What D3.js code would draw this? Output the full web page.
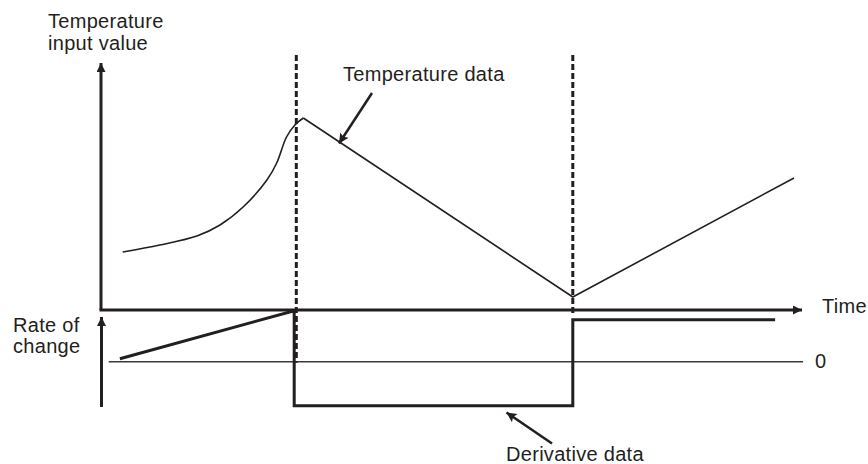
<!DOCTYPE html>
<html>
<head>
<meta charset="utf-8">
<script src="https://cdn.jsdelivr.net/npm/d3@7"></script>
<style>
  body { margin: 0; background: #fff; }
  text { font-family: "Liberation Sans", Arial, sans-serif; font-size: 20px; fill: #231f20; letter-spacing: 0.3px; }
</style>
</head>
<body>
<svg width="868" height="464"></svg>
<script>
// time in arbitrary units, temperature and rate of change in arbitrary units
const riseTimes = [0.31, 0.84, 1.37, 1.70, 2.03, 2.37, 2.51, 2.65, 2.77, 2.89];
const riseTemps = [58, 65, 74, 85, 103, 130, 147, 173, 185, 192];
const lineTimes = [2.89, 6.74, 9.90];
const lineTemps = [192, 13, 132];
const derivTimes = [0.27, 2.76, 2.76, 6.74, 6.74, 9.63];
const derivValues = [3, 51, -44, -44, 42, 42];
const eventTimes = [2.79, 6.74];
const eventEnds = [-1, 50];   // how far down each dashed marker goes (rate units / temp axis)

const ink = "#231f20";
const svg = d3.select("svg");

const x = d3.scaleLinear().domain([0, 10]).range([101, 801]);
const yTemp = d3.scaleLinear().domain([0, 250]).range([310, 60]);
const yRate = d3.scaleLinear().domain([-50, 50]).range([411.7, 311.7]);

// arrow heads
const defs = svg.append("defs");
defs.append("marker")
    .attr("id", "head")
    .attr("viewBox", "0 0 10 10")
    .attr("refX", 10).attr("refY", 5)
    .attr("markerUnits", "userSpaceOnUse")
    .attr("markerWidth", 10).attr("markerHeight", 9)
    .attr("orient", "auto")
    .append("path").attr("d", "M0,0 L10,5 L0,10 Z").attr("fill", ink);
defs.append("marker")
    .attr("id", "pointer")
    .attr("viewBox", "0 0 10 10")
    .attr("refX", 10).attr("refY", 5)
    .attr("markerUnits", "userSpaceOnUse")
    .attr("markerWidth", 11).attr("markerHeight", 10)
    .attr("orient", "auto")
    .append("path").attr("d", "M0,0 L10,5 L0,10 L2,5 Z").attr("fill", ink);

// zero line of rate of change
svg.append("line")
    .attr("x1", x(0.11)).attr("x2", x(10.03))
    .attr("y1", yRate(0)).attr("y2", yRate(0))
    .attr("stroke", "#3a3a3a").attr("stroke-width", 1.4);

// axes
svg.append("line")
    .attr("x1", x(0)).attr("y1", yTemp(0))
    .attr("x2", x(0)).attr("y2", 63)
    .attr("stroke", ink).attr("stroke-width", 3)
    .attr("marker-end", "url(#head)");
svg.append("line")
    .attr("x1", x(0) - 1.5).attr("y1", yTemp(0))
    .attr("x2", x(10) + 1).attr("y2", yTemp(0))
    .attr("stroke", ink).attr("stroke-width", 3)
    .attr("marker-end", "url(#head)");
svg.append("line")
    .attr("x1", x(0) + 0.5).attr("y1", 407)
    .attr("x2", x(0) + 0.5).attr("y2", 317)
    .attr("stroke", ink).attr("stroke-width", 3)
    .attr("marker-end", "url(#head)");

// dashed event markers
svg.selectAll("line.event")
    .data(eventTimes)
    .enter().append("line")
    .attr("class", "event")
    .attr("x1", d => x(d)).attr("x2", d => x(d))
    .attr("y1", 55)
    .attr("y2", (d, i) => i === 0 ? yRate(eventEnds[i]) : 316)
    .attr("stroke", ink).attr("stroke-width", 3)
    .attr("stroke-dasharray", "6,3");

// temperature data
const rise = riseTimes.map((t, i) => [t, riseTemps[i]]);
const fall = lineTimes.map((t, i) => [t, lineTemps[i]]);
svg.append("path")
    .datum(rise)
    .attr("d", d3.line().x(d => x(d[0])).y(d => yTemp(d[1])).curve(d3.curveCatmullRom))
    .attr("fill", "none").attr("stroke", ink).attr("stroke-width", 1.6);
svg.append("path")
    .datum(fall)
    .attr("d", d3.line().x(d => x(d[0])).y(d => yTemp(d[1])))
    .attr("fill", "none").attr("stroke", ink).attr("stroke-width", 1.6)
    .attr("stroke-linejoin", "miter");

// derivative data
const deriv = derivTimes.map((t, i) => [t, derivValues[i]]);
svg.append("path")
    .datum(deriv)
    .attr("d", d3.line().x(d => x(d[0])).y(d => yRate(d[1])))
    .attr("fill", "none").attr("stroke", ink).attr("stroke-width", 3)
    .attr("stroke-linejoin", "miter");

// callout arrows
svg.append("line")
    .attr("x1", 372).attr("y1", 93).attr("x2", 339).attr("y2", 143.5)
    .attr("stroke", ink).attr("stroke-width", 2.5)
    .attr("marker-end", "url(#pointer)");
svg.append("line")
    .attr("x1", 552).attr("y1", 443.5).attr("x2", 506.5).attr("y2", 412.5)
    .attr("stroke", ink).attr("stroke-width", 2.5)
    .attr("marker-end", "url(#pointer)");

// labels
const labels = [
    {t: "Temperature", x: 48, y: 28},
    {t: "input value", x: 48, y: 50},
    {t: "Temperature data", x: 343, y: 81},
    {t: "Time", x: 822, y: 313},
    {t: "Rate of", x: 13, y: 332},
    {t: "change", x: 13, y: 353},
    {t: "0", x: 815, y: 368},
    {t: "Derivative data", x: 506, y: 461}
];
svg.selectAll("text.lbl")
    .data(labels)
    .enter().append("text")
    .attr("class", "lbl")
    .attr("x", d => d.x).attr("y", d => d.y)
    .text(d => d.t);
</script>
</body>
</html>
